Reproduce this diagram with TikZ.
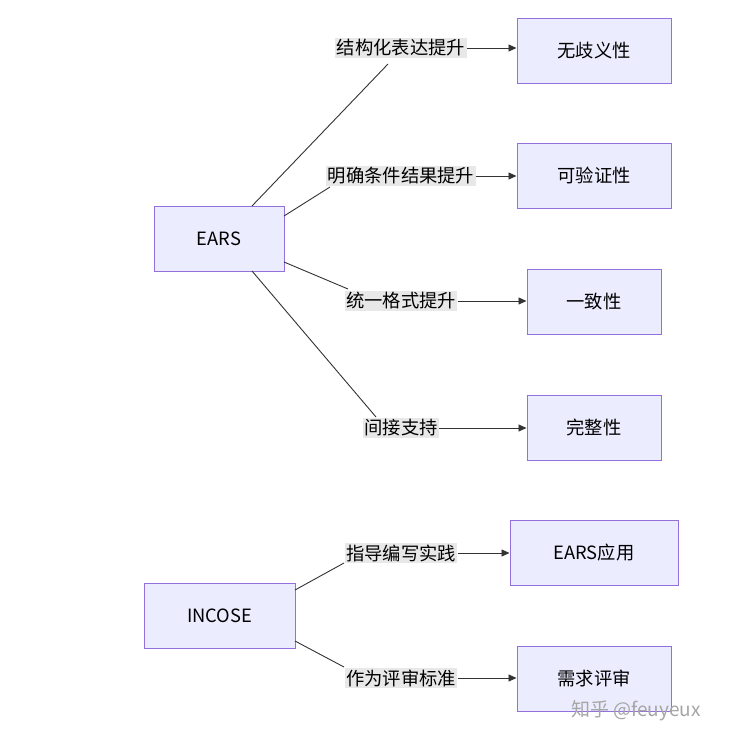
\documentclass[tikz,border=0pt]{standalone}
\usepackage{fontspec}
\setmainfont{Noto Sans CJK SC}
\usetikzlibrary{arrows.meta}
\begin{document}
\begin{tikzpicture}[x=1pt,y=-1pt,
  box/.style={draw=#1,fill=boxfill,line width=1pt,minimum height=65pt,inner sep=0pt,font=\fontsize{18.3}{21}\selectfont},
  box/.default=boxline,
  lbl/.style={fill=lblfill,inner sep=1.5pt,font=\fontsize{18.3}{21}\selectfont},
  ln/.style={draw=black!80,line width=0.9pt},
  arr/.style={ln,-{Triangle[length=8pt,width=7pt]}}]
\definecolor{boxfill}{HTML}{ECECFF}
\definecolor{boxline}{HTML}{9370DB}
\definecolor{lblfill}{HTML}{E8E8E8}
\useasboundingbox (0,0) rectangle (729,744);
\fill[white] (0,0) rectangle (729,744);
\node[box,minimum width=130pt] (ears) at (219,238.5) {EARS};
\node[box,minimum width=151pt] (incose) at (219.5,615.5) {INCOSE};
\node[box,minimum width=154pt] (t1) at (594,50.5) {无歧义性};
\node[box,minimum width=154pt] (t2) at (594,175.5) {可验证性};
\node[box,minimum width=134pt] (t3) at (594,301.5) {一致性};
\node[box,minimum width=134pt] (t4) at (594,427.5) {完整性};
\node[box,minimum width=168pt] (t5) at (594,552.5) {EARS应用};
\node[box,minimum width=154pt] (t6) at (594,678.5) {需求评审};
\node[lbl] (l1) at (401,48) {结构化表达提升};
\node[lbl] (l2) at (401,176) {明确条件结果提升};
\node[lbl] (l3) at (401,301) {统一格式提升};
\node[lbl] (l4) at (401,428) {间接支持};
\node[lbl] (l5) at (401,553) {指导编写实践};
\node[lbl] (l6) at (401,678) {作为评审标准};
\coordinate (c1) at (388,64);
\coordinate (c2) at (330,187);
\coordinate (c3) at (348,289);
\coordinate (c4) at (376,417);
\coordinate (c5) at (344,563);
\coordinate (c6) at (344,667);
\draw[ln] (252,206) -- (c1);
\draw[ln] (284,216) -- (c2);
\draw[ln] (284,262) -- (c3);
\draw[ln] (252,271) -- (c4);
\draw[ln] (295,590) -- (c5);
\draw[ln] (295,641) -- (c6);
\draw[arr] (l1.east) -- (t1.west|-l1.east);
\draw[arr] (l2.east) -- (t2.west|-l2.east);
\draw[arr] (l3.east) -- (t3.west|-l3.east);
\draw[arr] (l4.east) -- (t4.west|-l4.east);
\draw[arr] (l5.east) -- (t5.west|-l5.east);
\draw[arr] (l6.east) -- (t6.west|-l6.east);
\node[text=black!35,font=\fontsize{19}{22}\selectfont] (wm) at (636,711) {知乎 @feuyeux};
\end{tikzpicture}
\end{document}
